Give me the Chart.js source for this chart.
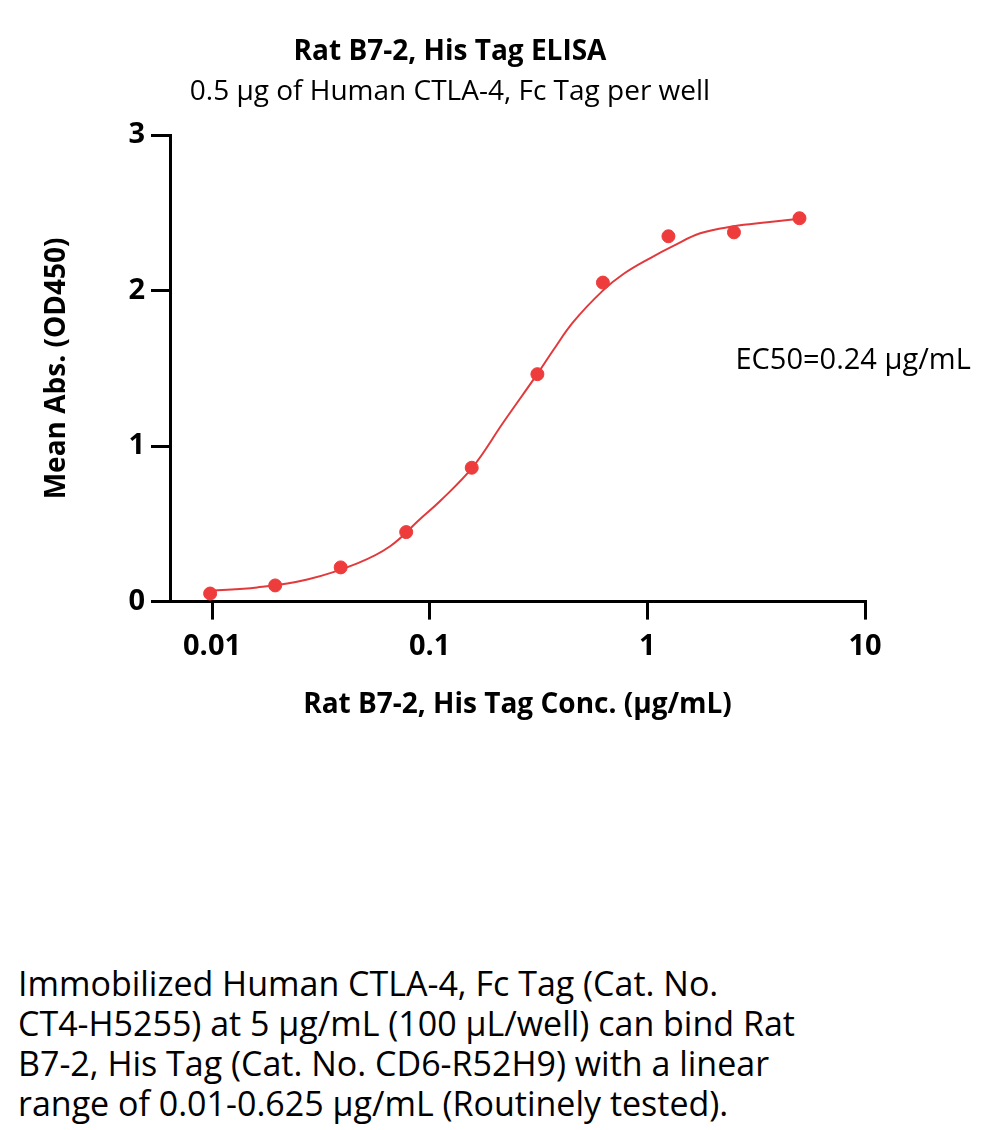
<!DOCTYPE html>
<html>
<head>
<meta charset="utf-8">
<script src="https://cdn.jsdelivr.net/npm/chart.js@4/dist/chart.umd.min.js"></script>
<style>
  body { margin: 0; background: #fff; }
  #wrap { position: relative; width: 1000px; height: 1130px; }
  #box { position: absolute; left: 0; top: 0; width: 1000px; height: 722px; }
  #note {
    position: absolute; left: 18px; top: 963px;
    font-family: "Open Sans", Lato, sans-serif;
    font-size: 34px; line-height: 40px; color: #000;
    white-space: nowrap;
  }
</style>
</head>
<body>
<div id="wrap">
  <div id="box"><canvas id="myChart"></canvas></div>
  <div id="note">Immobilized Human CTLA-4, Fc Tag (Cat. No.<br>CT4-H5255) at 5 μg/mL (100 μL/well) can bind Rat<br>B7-2, His Tag (Cat. No. CD6-R52H9) with a linear<br>range of 0.01-0.625 μg/mL (Routinely tested).</div>
</div>
<script>
// measured points
const xConc = [0.0098, 0.0195, 0.039, 0.078, 0.156, 0.3125, 0.625, 1.25, 2.5, 5]
const meanAbs = [0.052, 0.104, 0.22, 0.447, 0.861, 1.463, 2.052, 2.35, 2.375, 2.466]

// fitted curve
const fitX = [0.0098, 0.0161, 0.0274, 0.0465, 0.0658, 0.0904, 0.1117, 0.1568, 0.2178, 0.312, 0.37, 0.457, 0.621, 0.776, 1.032, 1.317, 1.75, 2.49, 3.56, 5]
const fitY = [0.071, 0.091, 0.142, 0.246, 0.356, 0.531, 0.647, 0.861, 1.152, 1.463, 1.618, 1.799, 1.997, 2.107, 2.21, 2.288, 2.369, 2.414, 2.44, 2.463]

// axis ticks
const xTicks = [0.01, 0.1, 1, 10]
const xTickLabels = ['0.01', '0.1', '1', '10']
const yTicks = [0, 1, 2, 3]

const ec50Text = 'EC50=0.24 μg/mL'
const ec50Pos = [2.54, 1.55]

const red = '#EE3B3B'
const fontFam = '"Open Sans", Lato, sans-serif'

Chart.defaults.font.family = fontFam
Chart.defaults.color = '#000'

// EC50 label
const ec50Label = {
  id: 'ec50Label',
  afterDraw(chart) {
    const ctx = chart.ctx
    const x = chart.scales.x.getPixelForValue(ec50Pos[0])
    const y = chart.scales.y.getPixelForValue(ec50Pos[1])
    ctx.save()
    ctx.font = '29px ' + fontFam
    ctx.fillStyle = '#000'
    ctx.textBaseline = 'middle'
    ctx.fillText(ec50Text, x, y)
    ctx.restore()
  }
}

const data = {
  datasets: [{
    type: 'scatter',
    label: 'Mean Abs.',
    data: xConc.map((v, i) => ({x: v, y: meanAbs[i]})),
    backgroundColor: red,
    borderColor: red,
    pointRadius: 6.5,
    pointHoverRadius: 6.5,
    order: 1
  }, {
    type: 'line',
    label: 'Fit',
    data: fitX.map((v, i) => ({x: v, y: fitY[i]})),
    borderColor: '#E23A3C',
    borderWidth: 2,
    pointRadius: 0,
    fill: false,
    tension: 0.4,
    order: 2
  }]
}

const config = {
  type: 'scatter',
  data,
  options: {
    responsive: true,
    maintainAspectRatio: false,
    animation: false,
    layout: { padding: { left: 35, right: 135, top: 0, bottom: 0 } },
    plugins: {
      legend: { display: false },
      tooltip: { enabled: false },
      title: {
        display: true,
        text: 'Rat B7-2, His Tag ELISA',
        font: { size: 28, weight: 'bold' },
        padding: { top: 35, bottom: 2 }
      },
      subtitle: {
        display: true,
        text: '0.5 μg of Human CTLA-4, Fc Tag per well',
        font: { size: 28, weight: 'normal' },
        padding: { top: 5, bottom: 26 }
      }
    },
    scales: {
      x: {
        type: 'logarithmic',
        min: 0.00641,
        max: 10,
        afterBuildTicks: s => { s.ticks = xTicks.map(v => ({value: v})) },
        ticks: {
          autoSkip: false,
          maxRotation: 0,
          padding: 10,
          font: { size: 29, weight: 'bold' },
          callback: (v, i) => xTickLabels[i]
        },
        grid: { drawOnChartArea: false, color: '#000', lineWidth: 3, tickLength: 18 },
        border: { display: true, color: '#000', width: 3 },
        title: {
          display: true,
          text: 'Rat B7-2, His Tag Conc. (μg/mL)',
          font: { size: 28, weight: 'bold' },
          padding: { top: 14, bottom: 0 }
        }
      },
      y: {
        type: 'linear',
        min: 0,
        max: 3,
        afterBuildTicks: s => { s.ticks = yTicks.map(v => ({value: v})) },
        afterFit: s => { s.width = 135 },
        ticks: {
          padding: 6,
          font: { size: 29, weight: 'bold' }
        },
        grid: { drawOnChartArea: false, color: '#000', lineWidth: 3, tickLength: 19 },
        border: { display: true, color: '#000', width: 3 },
        title: {
          display: true,
          text: 'Mean Abs. (OD450)',
          font: { size: 28, weight: 'bold' },
          padding: { top: 5, bottom: 0 }
        }
      }
    }
  },
  plugins: [ec50Label]
}

let myChart = new Chart(document.getElementById('myChart'), config)
</script>
</body>
</html>
